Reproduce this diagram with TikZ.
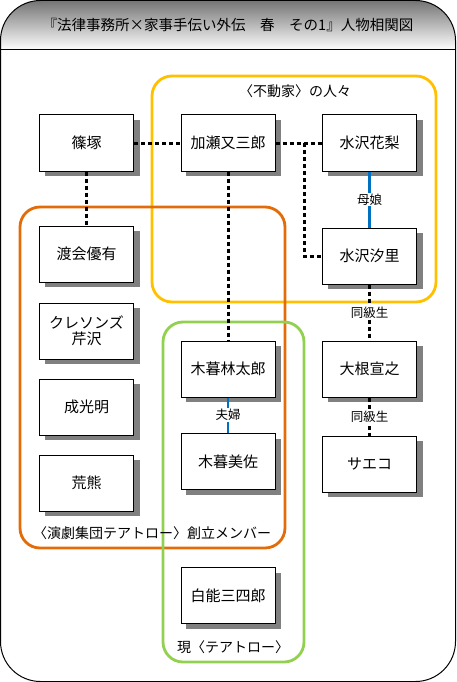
\documentclass[tikz,border=0pt]{standalone}
\usepackage{fontspec}
\setmainfont{Noto Sans CJK JP}

\definecolor{famyellow}{RGB}{255,192,0}
\definecolor{troupeorange}{RGB}{227,108,10}
\definecolor{nowgreen}{RGB}{146,208,80}
\definecolor{kinblue}{RGB}{0,112,192}
\definecolor{shadowgray}{RGB}{128,128,128}

\tikzset{
    person/.style={draw, fill=white, line width=1pt, minimum width=94pt, minimum height=56pt,
        align=center, font=\fontsize{15}{18}\selectfont},
    acquaint/.style={line width=3pt, dash pattern=on 4pt off 3pt},
    kin/.style={line width=2.8pt, kinblue},
    rel/.style={fill=white, inner sep=1pt, font=\fontsize{12.5}{14}\selectfont, text=black},
    group/.style={line width=2.8pt, rounded corners=20pt},
    grouplabel/.style={font=\fontsize{14}{16}\selectfont}
}

\begin{document}
\begin{tikzpicture}[x=1pt, y=-1pt]
    \useasboundingbox (0,0) rectangle (456,682);

    % frame and title band
    \begin{scope}
        \clip[rounded corners=40pt] (0.5,0.5) rectangle (455.5,681.5);
        \shade[top color=black!55, bottom color=white] (0,0) rectangle (456,50);
    \end{scope}
    \draw[line width=1pt, rounded corners=40pt] (0.5,0.5) rectangle (455.5,681.5);
    \draw[line width=1pt] (0.5,50) -- (455.5,50);
    \node (title) [font=\fontsize{14.5}{17}\selectfont] at (228,25) {『法律事務所×家事手伝い外伝　春　その1』人物相関図};

    % groups
    \draw[group, famyellow] (152,76) rectangle (436,302);
    \draw[group, troupeorange] (20,207) rectangle (285,548);
    \draw[group, nowgreen] (163,322) rectangle (304,662);
    \node (fudoke) [grouplabel] at (295,91) {〈不動家〉の人々};
    \node (theatro) [grouplabel] at (152,533) {〈演劇集団テアトロー〉創立メンバー};
    \node (gentheatro) [grouplabel] at (233,647) {現〈テアトロー〉};

    % people, each with its shadow
    \foreach \name/\at/\who in {
        shinozuka/{86.5,143}/篠塚, kase/{228,143}/加瀬又三郎, karin/{369.5,143}/水沢花梨,
        shiori/{369.5,256}/水沢汐里, watarai/{86.5,254}/渡会優有,
        serizawa/{86.5,331}/{クレソンズ\\[-2pt]芹沢}, narimitsu/{86.5,407}/成光明,
        arakuma/{86.5,483}/荒熊, rintaro/{228,369}/木暮林太郎, misa/{228,461.5}/木暮美佐,
        shironou/{228,595.5}/白能三四郎, oone/{369.5,369}/大根宣之, saeko/{369.5,464}/サエコ} {
        \fill[shadowgray] (\at) ++(-42,-23) rectangle ++(95,56);
        \node (\name) [person] at (\at) {\who};
    }
    \coordinate (fork) at (304,143);

    % relations
    \draw[acquaint] (shinozuka) -- (kase);
    \draw[acquaint] (kase) -- (karin);
    \draw[acquaint] (fork) |- (shiori);
    \draw[acquaint] (shinozuka) -- (watarai);
    \draw[acquaint] (kase) -- (rintaro);
    \draw[acquaint] (shiori) -- node[rel] {同級生} (oone);
    \draw[acquaint] (oone) -- node[rel] {同級生} (saeko);
    \draw[kin] (karin) -- node[rel] {母娘} (shiori);
    \draw[kin] (rintaro) -- node[rel] {夫婦} (misa);
\end{tikzpicture}
\end{document}
